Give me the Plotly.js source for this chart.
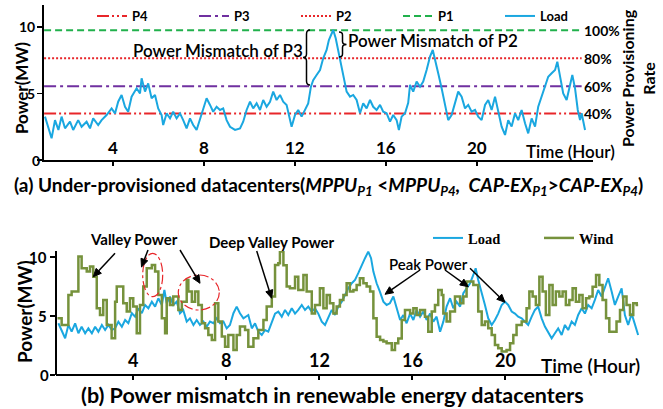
<!DOCTYPE html>
<html>
<head>
<meta charset="utf-8">
<script src="https://cdn.plot.ly/plotly-3.0.1.min.js"></script>
<style>html,body{margin:0;padding:0;background:#fff;}#chart{width:663px;height:409px;}</style>
</head>
<body>
<div id="chart"></div>
<script>
// ---------- DATA ----------
// (a) load trace (hours, MW)
const hoursTop = [0.99,1.14,1.28,1.43,1.58,1.72,1.87,2.09,2.23,2.45,2.60,2.82,2.97,3.11,3.33,3.48,3.70,3.92,4.07,4.21,4.36,4.51,4.65,4.80,5.02,5.17,5.24,5.39,5.53,5.68,5.83,5.97,6.12,6.19,6.34,6.49,6.63,6.78,6.93,7.07,7.22,7.37,7.51,7.66,7.81,7.95,8.10,8.25,8.39,8.54,8.69,8.83,8.98,
9.13,9.35,9.57,9.71,9.86,10.01,10.15,10.30,10.45,10.59,10.74,10.89,11.03,11.18,11.33,11.47,11.62,11.77,11.84,11.99,12.13,12.28,12.43,12.57,12.69,12.79,12.94,13.09,13.23,13.38,13.48,13.57,13.67,13.78,13.89,14.04,14.16,14.26,14.41,14.55,14.70,14.85,14.99,15.14,15.29,15.43,15.58,15.73,15.87,16.02,16.17,16.31,16.46,16.56,16.68,16.83,
16.97,17.05,17.19,17.34,17.49,17.63,17.78,17.93,18.05,18.18,18.29,18.44,18.59,18.73,18.88,19.03,19.17,19.32,19.47,19.61,19.76,19.91,20.05,20.20,20.35,20.49,20.64,20.79,20.93,21.08,21.23,21.37,21.52,21.67,21.81,21.96,22.11,22.25,22.40,22.55,22.69,22.84,22.99,23.13,23.28,23.43,23.53,23.65,23.79,23.94,24.09,24.19,24.31,24.43,24.53,24.60,24.75];
const loadTop = [3.26,2.5,1.63,3.0,2.26,3.26,2.38,2.88,2.26,3.0,2.5,2.88,2.38,3.13,2.63,3.0,3.38,3.88,3.5,4.38,4.88,4.0,3.63,4.76,5.39,5.0,6.14,5.14,5.76,4.64,4.89,3.88,3.38,2.63,3.5,3.13,3.63,3.13,3.5,3.0,2.38,3.13,2.63,2.26,3.13,3.88,4.64,4.14,3.63,4.0,3.76,3.88,3.0,
2.5,2.26,2.38,2.88,3.76,4.38,3.88,4.26,3.76,4.51,4.0,4.38,5.14,4.51,4.89,4.38,4.14,3.0,2.5,3.38,3.76,3.26,3.76,4.26,5.51,6.0,6.39,6.76,7.64,8.27,9.02,9.4,9.77,9.15,8.27,7.01,5.89,5.14,4.76,4.89,4.51,3.51,4.26,3.88,4.51,4.0,3.76,4.14,3.63,3.51,2.88,3.38,3.0,2.26,3.26,3.51,
4.3,5.64,5.14,5.89,5.51,5.89,6.77,7.77,8.27,7.39,6.52,5.39,4.01,3.0,3.38,4.26,5.14,4.76,3.88,4.14,3.63,3.76,3.26,3.0,4.14,4.51,3.76,4.76,3.63,2.51,1.88,3.0,2.51,3.51,3.0,3.76,2.76,2.0,3.13,2.51,4.01,4.76,5.51,6.26,6.52,6.77,7.39,6.14,5.01,4.51,5.51,6.39,5.39,3.76,3.0,3.51,2.26];

// (a) power provisioning levels
const provisionNames = ['P4','P3','P2','P1'];
const provisionLevels = [3.5, 5.55, 7.65, 9.75];
const provisionRates = ['40%','60%','80%','100%'];
const provisionSpan = [0.95, 24.6];   // hours covered by the provisioning lines

// (b) load trace
const hoursLoadB = [0.78,0.92,1.07,1.21,1.35,1.50,1.64,1.78,1.93,2.07,2.22,2.36,2.50,2.65,2.79,2.93,3.08,3.22,3.36,3.51,3.65,3.79,3.94,4.08,4.22,4.37,4.51,4.65,4.80,4.94,5.08,5.23,5.34,5.44,5.58,5.72,5.87,6.01,6.15,6.30,6.44,6.59,6.73,6.87,7.02,7.16,7.30,7.45,7.59,7.73,7.88,8.02,8.16,8.31,8.45,8.59,8.74,8.95,
9.10,9.24,9.38,9.53,9.67,9.81,9.96,10.10,10.24,10.39,10.53,10.67,10.82,10.96,11.10,11.25,11.39,11.53,11.68,11.82,11.96,12.11,12.25,12.39,12.54,12.68,12.82,12.97,13.11,13.25,13.40,13.54,13.68,13.83,13.97,14.11,14.23,14.33,14.47,14.61,14.76,14.90,15.04,15.19,15.33,15.48,15.62,15.76,15.91,16.05,16.19,16.34,16.48,16.62,16.77,16.91,17.05,17.20,17.34,
17.48,17.63,17.77,17.91,18.06,18.20,18.34,18.49,18.63,18.73,18.84,18.99,19.13,19.27,19.42,19.56,19.70,19.85,19.99,20.13,20.28,20.42,20.56,20.71,20.85,20.99,21.14,21.28,21.42,21.57,21.71,21.85,22.00,22.14,22.28,22.43,22.57,22.71,22.86,23.00,23.14,23.29,23.43,23.57,23.72,23.86,24.00,24.15,24.29,24.43,24.58,24.72,24.86,25.01,25.15,25.29,25.44,25.58,25.72];
const loadB = [4.38,3.81,3.11,4.24,3.67,4.38,3.53,4.09,3.53,3.95,3.53,4.09,3.67,4.24,3.81,4.24,3.81,3.95,4.52,4.09,4.66,4.38,5.23,4.94,5.65,5.23,5.93,5.65,6.21,5.79,6.5,5.93,7.2,6.07,6.64,5.93,6.21,5.23,5.51,4.52,4.8,4.24,4.66,4.24,4.52,4.09,4.52,4.38,4.8,4.38,4.52,3.95,4.24,5.23,5.79,5.23,4.8,5.08,
3.95,4.38,3.67,3.39,3.81,3.67,4.38,5.2,5.37,4.94,5.51,5.08,5.65,5.2,5.51,5.93,5.51,5.79,5.37,5.65,5.2,4.52,4.24,4.8,5.51,5.08,5.79,6.21,6.78,7.34,7.77,8.05,8.62,9.32,9.89,10.45,9.89,8.76,7.77,7.06,6.21,5.93,6.07,6.64,5.65,4.66,5.08,4.38,5.2,4.66,5.51,4.94,5.37,4.66,5.2,4.52,4.94,3.67,4.52,
5.79,6.5,5.65,6.21,5.79,6.92,7.34,7.77,8.47,9.04,8.05,7.06,5.93,4.8,4.24,4.66,5.2,5.93,6.21,5.93,5.37,5.2,4.94,4.8,4.52,4.24,4.94,5.51,5.79,4.8,4.1,3.67,3.11,3.53,3.95,3.39,4.24,3.81,4.52,4.24,5.08,5.65,5.2,5.93,5.65,6.36,7.2,6.64,7.48,8.19,7.06,5.93,6.64,7.34,5.08,4.24,5.2,4.24,3.39];

// (b) wind power (step series)
const hoursWind = [0.74,0.92,1.21,1.35,1.64,1.78,2.0,2.14,2.28,2.43,2.57,2.71,2.86,3.07,3.22,3.29,3.57,3.72,3.86,4.0,4.15,4.29,4.43,4.58,4.80,4.94,5.08,5.23,5.37,5.44,5.58,5.72,5.94,6.09,6.30,6.37,6.52,6.66,6.80,6.95,7.09,7.23,7.38,7.52,7.66,7.81,7.95,8.09,8.31,8.45,8.59,8.81,8.95,9.17,9.38,9.60,9.74,9.96,10.10,10.24,
10.31,10.46,10.60,10.74,10.96,11.10,11.32,11.46,11.68,11.82,12.03,12.18,12.32,12.46,12.61,12.75,12.89,13.04,13.18,13.32,13.47,13.61,13.75,13.90,14.04,14.19,14.33,14.47,14.62,14.76,14.90,15.12,15.26,15.40,15.55,15.69,15.91,16.05,16.19,16.34,16.55,16.69,16.84,16.98,17.12,17.27,
17.34,17.48,17.63,17.84,18.06,18.20,18.34,18.63,18.84,18.99,19.13,19.27,19.42,19.56,19.70,19.85,20.06,20.21,20.35,20.49,20.71,20.92,21.04,21.18,21.32,21.47,21.61,21.75,21.90,22.04,22.18,22.33,22.47,22.61,22.76,22.90,23.04,23.19,23.33,23.48,23.62,23.76,23.91,24.05,24.19,24.34,24.48,24.79,24.94,25.08,25.22,25.37,25.51,25.66,25.72];
const wind = [4.8,4.24,6.78,7.06,10.03,9.04,8.76,9.18,8.33,5.65,5.08,6.36,4.24,3.11,6.21,7.49,6.07,5.37,6.5,5.79,3.53,5.93,7.49,9.04,9.32,8.76,6.78,4.8,3.53,6.5,5.93,6.64,5.51,6.21,8.05,7.06,6.21,7.06,5.93,4.38,3.95,3.39,2.97,6.07,4.52,3.25,2.4,3.39,2.12,3.39,4.1,3.81,2.4,3.11,3.81,4.66,5.79,6.64,9.32,9.46,
10.45,9.3,7.5,7.34,8.33,7.2,8.47,7.06,5.2,5.93,7.34,5.65,6.78,6.07,5.2,5.79,6.36,6.78,7.77,7.06,7.2,7.63,8.2,7.77,7.5,7.06,4.8,3.24,2.97,2.83,2.68,2.12,2.68,3.1,4.66,5.51,5.2,5.65,5.08,5.51,4.94,3.67,5.37,5.93,7.2,6.78,
5.2,4.52,5.37,6.64,6.07,6.64,7.91,7.63,5.37,4.24,4.52,3.95,3.39,2.54,2.26,1.98,2.12,2.68,3.39,4.24,4.52,5.65,7.06,6.64,5.93,8.33,7.06,5.08,7.63,5.93,7.06,6.64,7.06,5.93,6.36,7.34,6.21,6.78,5.65,6.5,6.64,7.48,8.47,7.63,6.36,4.8,3.67,4.52,5.51,6.64,5.93,5.08,6.07,5.93,5.93];

const xTickVals = [4, 8, 12, 16, 20];
const xTickText = ['4', '8', '12', '16', '20'];
const yTickVals = [0, 5, 10];
const yTickText = ['0', '5', '10'];

// ---------- STYLE ----------
const W = 663, H = 409;
const px = v => v / W;            // pixel -> paper x
const py = v => 1 - v / H;        // pixel -> paper y
const FONT = 'Lato, "Open Sans", sans-serif';
const blue = '#1aa7e0', olive = '#76923c';
const pStyles = [
  {color:'#e8262a', dash:'12px,3px,2px,3px,2px,3px'},
  {color:'#7030a0', dash:'12px,4px,3px,4px'},
  {color:'#e8262a', dash:'2px,2px'},
  {color:'#21b14c', dash:'7px,4px'}
];

const traces = [];
provisionNames.forEach((n, i) => {
  traces.push({x: provisionSpan, y: [provisionLevels[i], provisionLevels[i]], name: n, mode: 'lines',
    line: {color: pStyles[i].color, dash: pStyles[i].dash, width: 2}, xaxis: 'x', yaxis: 'y', legend: 'legend', hoverinfo: 'skip'});
});
traces.push({x: hoursTop, y: loadTop, name: 'Load', mode: 'lines', line: {color: blue, width: 2}, xaxis: 'x', yaxis: 'y', legend: 'legend'});
traces.push({x: hoursLoadB, y: loadB, name: 'Load', mode: 'lines', line: {color: blue, width: 2}, xaxis: 'x2', yaxis: 'y2', legend: 'legend2'});
traces.push({x: hoursWind, y: wind, name: 'Wind', mode: 'lines', line: {color: olive, width: 2.5, shape: 'hv'}, xaxis: 'x2', yaxis: 'y2', legend: 'legend2'});

const axBase = {showgrid: false, zeroline: false, showline: true, linecolor: '#000', linewidth: 2, color: '#000', showticklabels: false};
const layout = {
  width: W, height: H, autosize: false,
  margin: {l: 0, r: 0, t: 0, b: 0},
  paper_bgcolor: '#fff', plot_bgcolor: 'rgba(0,0,0,0)',
  font: {family: FONT, color: '#000'},
  xaxis: Object.assign({}, axBase, {domain: [px(44), px(593)], range: [0.946, 25.1], anchor: 'y',
    tickvals: xTickVals, ticks: 'outside', ticklen: 4, tickwidth: 2}),
  yaxis: Object.assign({}, axBase, {domain: [py(160), py(5)], range: [0, 11.65], anchor: 'x',
    tickvals: yTickVals, ticks: 'outside', ticklen: 5, tickwidth: 1.5}),
  xaxis2: Object.assign({}, axBase, {showline: false, domain: [px(57), px(640)], range: [0.72, 25.8], anchor: 'y2',
    tickvals: xTickVals, ticks: 'outside', ticklen: 4, tickwidth: 2}),
  yaxis2: Object.assign({}, axBase, {domain: [py(375), py(251)], range: [0, 10.5], anchor: 'x2',
    tickvals: yTickVals, ticks: 'outside', ticklen: 5, tickwidth: 1.5}),
  showlegend: true,
  legend: {orientation: 'h', x: px(92), y: py(16), xanchor: 'left', yanchor: 'middle',
    bgcolor: 'rgba(0,0,0,0)', font: {family: FONT, size: 13, weight: 700, color: '#000'},
    entrywidth: 57, entrywidthmode: 'pixels', itemwidth: 30, tracegroupgap: 0},
  legend2: {orientation: 'h', x: px(428), y: py(238), xanchor: 'left', yanchor: 'middle',
    bgcolor: 'rgba(0,0,0,0)', font: {family: '"Liberation Serif", serif', size: 14.5, weight: 700, color: '#000'},
    entrywidth: 66, entrywidthmode: 'pixels', itemwidth: 30, tracegroupgap: 0},
  shapes: [],
  annotations: []
};

// bottom axis line (stops before the "Time (Hour)" label)
layout.shapes.push({type: 'line', xref: 'paper', yref: 'paper', x0: px(56), x1: px(560), y0: py(375), y1: py(375),
  line: {color: '#000', width: 2}});

// braces
const P = (x, y) => px(x) + ',' + py(y);
layout.shapes.push({type: 'path', xref: 'paper', yref: 'paper', line: {color: '#000', width: 1.5},
  path: 'M' + P(310,30) + ' Q' + P(306.5,30) + ' ' + P(306.5,34) + ' L' + P(306.5,54) + ' Q' + P(306.5,57.5) + ' ' + P(303,57.5) +
        ' Q' + P(306.5,57.5) + ' ' + P(306.5,61) + ' L' + P(306.5,81) + ' Q' + P(306.5,85) + ' ' + P(310,85)});
layout.shapes.push({type: 'path', xref: 'paper', yref: 'paper', line: {color: '#000', width: 1.5},
  path: 'M' + P(339,32) + ' Q' + P(342.5,32) + ' ' + P(342.5,35) + ' L' + P(342.5,41.5) + ' Q' + P(342.5,44.5) + ' ' + P(346.5,44.5) +
        ' Q' + P(342.5,44.5) + ' ' + P(342.5,47.5) + ' L' + P(342.5,54) + ' Q' + P(342.5,57) + ' ' + P(339,57)});

// red dash-dot ellipses
layout.shapes.push({type: 'circle', xref: 'paper', yref: 'paper', x0: px(142.7), x1: px(162.7), y0: py(296.7), y1: py(253.3),
  line: {color: '#e8262a', width: 1.2, dash: 'dashdot'}});
layout.shapes.push({type: 'circle', xref: 'paper', yref: 'paper', x0: px(178.3), x1: px(219.3), y0: py(310), y1: py(275),
  line: {color: '#e8262a', width: 1.2, dash: 'dashdot'}});

// arrows drawn as shapes: [head x, head y, tail x, tail y] in pixels
const arrows = [[93.3,276.7,115,253.3],[141.5,267,148,250],[200,283.3,180,250],[271.7,298.3,256.7,251],
                [385,294.3,420,270],[468.3,286.7,445,270],[505,302.3,470,268.3]];
arrows.forEach(a => {
  const [hx, hy, tx, ty] = a;
  const L = Math.hypot(hx - tx, hy - ty), dx = (hx - tx) / L, dy = (hy - ty) / L;
  const hl = 8, hw = 3.6;
  const bx = hx - dx * hl, by = hy - dy * hl;
  layout.shapes.push({type: 'line', xref: 'paper', yref: 'paper', x0: px(tx), y0: py(ty), x1: px(bx), y1: py(by),
    line: {color: '#000', width: 1.5}});
  layout.shapes.push({type: 'path', xref: 'paper', yref: 'paper', fillcolor: '#000', line: {color: '#000', width: 1},
    path: 'M' + P(hx, hy) + ' L' + P(bx - dy * hw, by + dx * hw) + ' L' + P(bx + dy * hw, by - dx * hw) + ' Z'});
});

// tick labels (drawn inside the plot for x, left of the axis for y)
xTickVals.forEach((v, i) => {
  layout.annotations.push({text: '<b>' + xTickText[i] + '</b>', xref: 'x', yref: 'paper', x: v, y: py(147.5),
    xanchor: 'center', yanchor: 'middle', showarrow: false, font: {family: FONT, size: 17, color: '#000'}});
  layout.annotations.push({text: '<b>' + xTickText[i] + '</b>', xref: 'x2', yref: 'paper', x: v, y: py(360),
    xanchor: 'center', yanchor: 'middle', showarrow: false, font: {family: FONT, size: 18, color: '#000'}});
});
yTickVals.forEach((v, i) => {
  layout.annotations.push({text: '<b>' + yTickText[i] + '</b>', xref: 'paper', yref: 'y', x: px(v === 0 ? 42 : 37), y: v,
    xanchor: 'right', yanchor: 'middle', showarrow: false, font: {family: FONT, size: 14, color: '#000'}});
  layout.annotations.push({text: '<b>' + yTickText[i] + '</b>', xref: 'paper', yref: 'y2', x: px(v === 0 ? 51 : 49), y: v,
    xanchor: 'right', yanchor: 'middle', showarrow: false, font: {family: FONT, size: 15, color: '#000'}});
});

// text annotations
function txt(t, x, y, size, opts) {
  layout.annotations.push(Object.assign({text: t, xref: 'paper', yref: 'paper', x: px(x), y: py(y),
    xanchor: 'center', yanchor: 'middle', showarrow: false,
    font: {family: FONT, size: size, color: '#000'}}, opts || {}));
}
const semi = (s, w) => ({font: {family: FONT, size: s, color: '#000', weight: w}});
txt('<b>(a) Under-provisioned datacenters(<i>MPPU<sub>P1</sub></i> &lt;<i>MPPU<sub>P4</sub>,  CAP-EX<sub>P1</sub></i>&gt;<i>CAP-EX<sub>P4</sub></i>)</b>', 328, 186, 19);
txt('<b>(b) Power mismatch in renewable energy datacenters</b>', 332, 395, 21.5);
txt('<b>Power(MW)</b>', 21, 88, 17, {textangle: -90});
txt('<b>Power(MW)</b>', 24, 312, 19, {textangle: -90});
txt('<b>Power Provisioning<br>Rate</b>', 638, 78, 16, {textangle: -90});
txt('Time (Hour)', 570, 152, 17, semi(17, 600));
txt('Time (Hour)', 590, 365, 19, semi(19, 600));
txt('Power Mismatch of P3', 218, 50, 17, semi(17, 600));
txt('Power Mismatch of P2', 433, 40, 17, semi(17, 600));
txt('Valley Power', 134, 239, 15, semi(15, 700));
txt('Deep Valley Power', 272, 242, 15, semi(15, 700));
txt('Peak Power', 428, 264, 15, semi(15, 600));

// provisioning rate labels on the right, tied to the levels on the (a) y axis
provisionRates.forEach((r, i) => {
  layout.annotations.push({text: '<b>' + r + '</b>', xref: 'paper', yref: 'y', x: px(582), y: provisionLevels[i],
    xanchor: 'left', yanchor: 'middle', showarrow: false, font: {family: FONT, size: 14, color: '#000'}});
});

Plotly.newPlot('chart', traces, layout, {displayModeBar: false, staticPlot: true});
</script>
</body>
</html>
